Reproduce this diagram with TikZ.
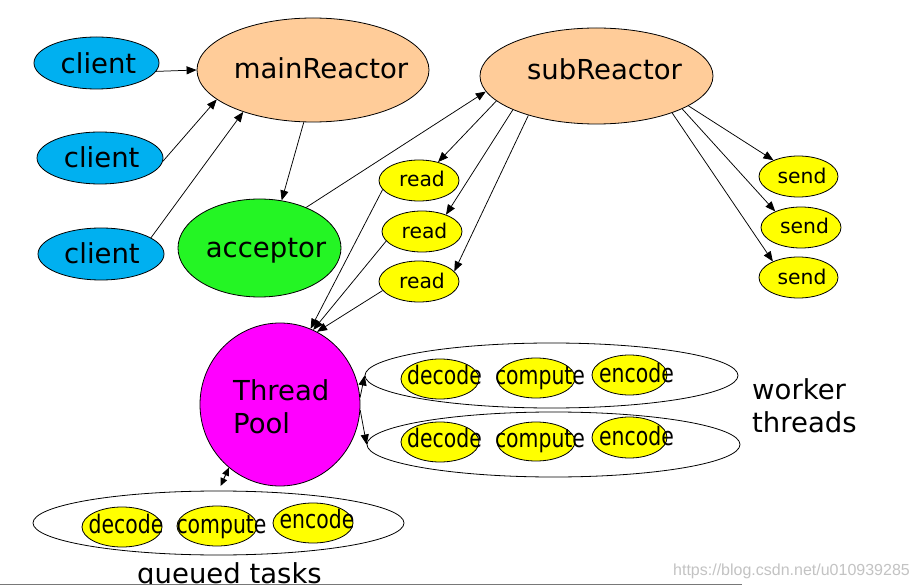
\documentclass[tikz,border=0pt]{standalone}
\usepackage{fontspec}
\setmainfont{DejaVu Sans}
\newfontfamily\narrowfont[FakeStretch=0.8]{DejaVu Sans}
\newfontfamily\wmfont{Liberation Sans}
\usetikzlibrary{shapes.geometric,arrows.meta}
\definecolor{clientc}{RGB}{0,176,240}
\definecolor{reactc}{RGB}{255,204,153}
\definecolor{accc}{RGB}{36,245,36}
\definecolor{poolc}{RGB}{255,0,255}
\definecolor{yelc}{RGB}{255,255,0}
\definecolor{wmc}{RGB}{195,195,195}
\definecolor{linec}{RGB}{120,120,120}
\begin{document}
\begin{tikzpicture}[x=1pt,y=-1pt,
  ell/.style={ellipse,draw,line width=0.8pt,inner sep=0pt},
  conn/.style={line width=0.75pt,-{Triangle[length=10pt,width=8pt]}},
  dconn/.style={line width=1pt,{Triangle[length=8pt,width=7pt]}-{Triangle[length=8pt,width=7pt]}},
  big/.style={font=\fontsize{27.5}{33}\selectfont,inner sep=0pt,anchor=base},
  small/.style={font=\fontsize{20.3}{24}\selectfont,inner sep=0pt,anchor=base},
  task/.style={font=\narrowfont\fontsize{25.5}{30}\selectfont,inner sep=0pt,anchor=base},
]
\useasboundingbox (0,0) rectangle (919,588);
\fill[white] (0,0) rectangle (919,588);

% clients
\node[ell,fill=clientc,minimum width=125pt,minimum height=52pt] (c1) at (96.5,63) {};
\node[ell,fill=clientc,minimum width=126pt,minimum height=52pt] (c2) at (100,158) {};
\node[ell,fill=clientc,minimum width=126pt,minimum height=52pt] (c3) at (101,254) {};
\node[big] (tc1) at (98.5,74) {client};
\node[big] (tc2) at (101.7,168) {client};
\node[big] (tc3) at (102,264) {client};

% reactors
\node[ell,fill=reactc,minimum width=232pt,minimum height=104pt] (mr) at (313,70) {};
\node[big] (tmr) at (321,78.3) {mainReactor};
\node[ell,fill=reactc,minimum width=233pt,minimum height=96pt] (sr) at (596.5,76) {};
\node[big] (tsr) at (604.5,79.3) {subReactor};

% acceptor
\node[ell,fill=accc,minimum width=163pt,minimum height=98pt] (acc) at (259.5,248) {};
\node[big] (tacc) at (266,257.5) {acceptor};

% read / send
\node[ell,fill=yelc,minimum width=80pt,minimum height=41pt] (r1) at (419,180.5) {};
\node[ell,fill=yelc,minimum width=80pt,minimum height=41pt] (r2) at (422,231.5) {};
\node[ell,fill=yelc,minimum width=80pt,minimum height=41pt] (r3) at (419,281.5) {};
\node[small] (tr1) at (422,186.7) {read};
\node[small] (tr2) at (424.5,238.3) {read};
\node[small] (tr3) at (422,288.3) {read};
\node[ell,fill=yelc,minimum width=79pt,minimum height=41pt] (s1) at (798.5,176.5) {};
\node[ell,fill=yelc,minimum width=80pt,minimum height=41pt] (s2) at (801,227.5) {};
\node[ell,fill=yelc,minimum width=79pt,minimum height=41pt] (s3) at (798.5,277.5) {};
\node[small] (ts1) at (802,183.3) {send};
\node[small] (ts2) at (804.5,234) {send};
\node[small] (ts3) at (802,284.3) {send};

% thread pool
\node[ell,fill=poolc,minimum width=160pt,minimum height=163pt] (tp) at (280,404.5) {};
\node[big,anchor=base west] (ttp1) at (233,400) {Thread};
\node[big,anchor=base west] (ttp2) at (233,433) {Pool};

% worker threads
\node[ell,minimum width=373pt,minimum height=65pt] (w1) at (551.5,375.5) {};
\node[ell,minimum width=373pt,minimum height=65pt] (w2) at (553.5,444.5) {};
\node[ell,fill=yelc,minimum width=78pt,minimum height=40pt] (w1d) at (440,379) {};
\node[ell,fill=yelc,minimum width=78pt,minimum height=40pt] (w1c) at (536,378) {};
\node[ell,fill=yelc,minimum width=75pt,minimum height=40pt] (w1e) at (629.5,375) {};
\node[ell,fill=yelc,minimum width=78pt,minimum height=40pt] (w2d) at (440,442) {};
\node[ell,fill=yelc,minimum width=78pt,minimum height=39pt] (w2c) at (536,441.5) {};
\node[ell,fill=yelc,minimum width=75pt,minimum height=41pt] (w2e) at (629.5,437.5) {};
\node[task] (tw1d) at (444.5,384) {decode};
\node[task] (tw1c) at (540,384) {compute};
\node[task] (tw1e) at (636.5,382) {encode};
\node[task] (tw2d) at (444.5,447.3) {decode};
\node[task] (tw2c) at (540,447) {compute};
\node[task] (tw2e) at (636.5,445) {encode};
\node[big,anchor=base west] (twt1) at (752,399) {worker};
\node[big,anchor=base west] (twt2) at (752,432.7) {threads};

% queued tasks
\node[ell,minimum width=371pt,minimum height=64pt] (q) at (218.5,523) {};
\node[ell,fill=yelc,minimum width=80pt,minimum height=40pt] (qd) at (122,527) {};
\node[ell,fill=yelc,minimum width=80pt,minimum height=40pt] (qc) at (217,526) {};
\node[ell,fill=yelc,minimum width=80pt,minimum height=40pt] (qe) at (313,523) {};
\node[task] (tqd) at (126,533) {decode};
\node[task] (tqc) at (221.5,533) {compute};
\node[task] (tqe) at (317,528) {encode};
\node[big,anchor=base west] (tqt) at (137,583) {queued tasks};

% watermark
\node[anchor=base west,inner sep=0pt,text=wmc,font=\wmfont\fontsize{16}{19}\selectfont] (wm) at (673,575) {https://blog.csdn.net/u010939285};

% connectors
\draw[conn] (c1.-8) -- (mr.180);
\draw[conn] (c2.-3) -- (mr.197);
\draw[conn] (c3.18) -- (mr.211);
\draw[conn] (mr.260) -- (acc.65);
\draw[conn] (acc.41) -- (sr.188);
\draw[conn] (sr.194) -- (r1.44);
\draw[conn] (sr.202) -- (r2.35);
\draw[conn] (sr.210) -- (r3.16);
\draw[conn] (sr.-18) -- (s1.147);
\draw[conn] (sr.-21) -- (s2.148);
\draw[conn] (sr.-26) -- (s3.148);
\draw[conn] (r1.194) -- (tp.68);
\draw[conn] (r2.195) -- (tp.66);
\draw[conn] (r3.194) -- (tp.63);
\draw[conn] (tp.5) -- (w1.west);
\draw[conn] (tp.-4) -- (w2.west);
\draw[dconn,shorten <=5pt] (q.north) -- (tp.231);

% bottom edge
\fill[white] (0,584) rectangle (919,588);
\draw[linec,line width=1.5pt] (0,584.5) -- (742,584.5);
\end{tikzpicture}
\end{document}
